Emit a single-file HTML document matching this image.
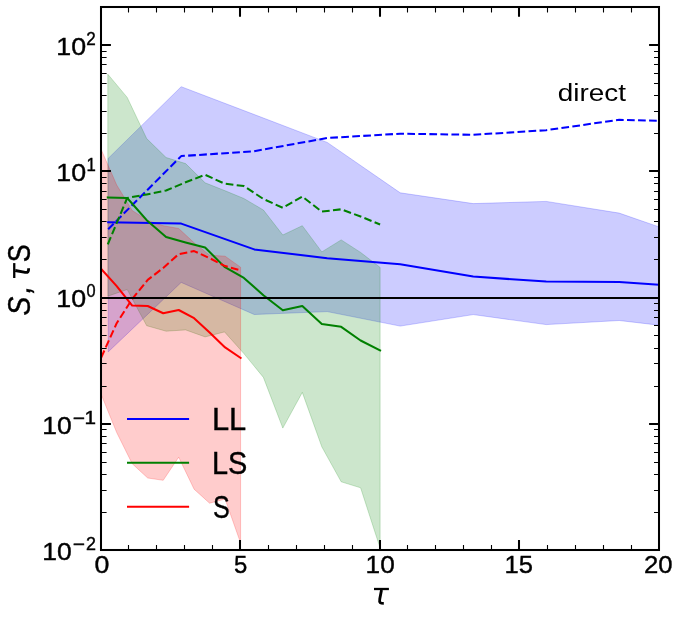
<!DOCTYPE html>
<html><head><meta charset="utf-8"><title>chart</title>
<style>html,body{margin:0;padding:0;background:#fff;}svg{display:block;will-change:transform;}text{font-family:"Liberation Sans",sans-serif;fill:#000;stroke:#000;stroke-width:0.40px;}</style>
</head><body>
<svg width="681" height="618" viewBox="0 0 681 618">
<rect x="0" y="0" width="681" height="618" fill="#fff"/>
<defs><clipPath id="c"><rect x="101.0" y="7.0" width="558.0" height="543.0"/></clipPath></defs>
<g clip-path="url(#c)">
<polygon points="108.2,158.4 181.2,86.7 254.2,114.5 327.2,142.4 400.2,192.8 473.2,203.6 546.2,201.4 619.2,213.1 692.2,238.4 692.2,329.1 619.2,320.5 546.2,324.6 473.2,314.6 400.2,326.1 327.2,311.6 254.2,314.5 181.2,282.4 108.2,351.9" fill="#0000ff" fill-opacity="0.2" stroke="#0000ff" stroke-opacity="0.2" stroke-width="1" stroke-linejoin="miter"/>
<polygon points="107.8,74.2 127.2,97.4 146.7,138.6 166.1,157.5 185.6,163.6 205.1,182.8 224.5,190.5 243.9,198.5 263.4,210.0 282.8,235.0 302.3,225.7 321.8,251.9 341.2,239.9 360.6,252.4 380.1,267.4 380.1,548.0 360.6,487.8 341.2,481.8 321.8,446.8 302.3,392.4 282.8,428.1 263.4,377.4 243.9,353.6 224.5,331.9 205.1,336.9 185.6,329.9 166.1,331.2 146.7,325.7 127.2,289.5 107.8,296.2" fill="#008000" fill-opacity="0.2" stroke="#008000" stroke-opacity="0.2" stroke-width="1" stroke-linejoin="miter"/>
<polygon points="101.2,149.5 116.7,185.0 132.2,210.5 147.7,220.4 163.2,225.7 178.7,228.5 194.1,242.8 209.6,255.2 225.1,256.2 240.6,267.2 240.6,543.0 225.1,499.0 209.6,503.2 194.1,489.2 178.7,457.2 163.2,480.3 147.7,478.0 132.2,463.7 116.7,432.5 101.2,394.5" fill="#ff0000" fill-opacity="0.2" stroke="#ff0000" stroke-opacity="0.2" stroke-width="1" stroke-linejoin="miter"/>
<polyline points="108.2,222.2 181.2,223.6 254.2,249.4 327.2,258.2 400.2,264.2 473.2,276.6 546.2,281.6 619.2,282.0 692.2,287.2" fill="none" stroke="#0000ff" stroke-width="2.04" stroke-linejoin="round" stroke-linecap="square"/>
<polyline points="108.2,229.2 181.2,156.1 254.2,151.2 327.2,138.0 400.2,133.7 473.2,134.8 546.2,130.2 619.2,119.8 692.2,121.5" fill="none" stroke="#0000ff" stroke-width="2.04" stroke-dasharray="7.7 3.33" stroke-linejoin="round"/>
<polyline points="107.8,197.4 127.2,198.0 146.7,220.2 166.1,236.9 185.6,242.4 205.1,247.5 224.5,266.9 243.9,277.9 263.4,295.2 282.8,310.3 302.3,306.1 321.8,324.1 341.2,326.8 360.6,340.5 380.1,350.5" fill="none" stroke="#008000" stroke-width="2.04" stroke-linejoin="round" stroke-linecap="square"/>
<polyline points="107.8,244.3 127.2,198.0 146.7,194.4 166.1,190.5 185.6,182.3 205.1,174.8 224.5,183.6 243.9,186.1 263.4,199.0 282.8,207.8 302.3,196.6 321.8,211.6 341.2,209.3 360.6,216.5 380.1,224.5" fill="none" stroke="#008000" stroke-width="2.04" stroke-dasharray="7.7 3.33" stroke-linejoin="round"/>
<polyline points="101.2,269.0 116.7,286.1 132.2,305.6 147.7,306.0 163.2,313.2 178.7,310.0 194.1,318.2 209.6,332.4 225.1,347.4 240.6,357.9" fill="none" stroke="#ff0000" stroke-width="2.04" stroke-linejoin="round" stroke-linecap="square"/>
<polyline points="101.2,357.5 116.7,323.2 132.2,299.0 147.7,279.9 163.2,267.9 178.7,254.1 194.1,251.1 209.6,258.1 225.1,266.1 240.6,270.4" fill="none" stroke="#ff0000" stroke-width="2.04" stroke-dasharray="7.7 3.33" stroke-linejoin="round"/>
<line x1="101.0" y1="298" x2="659.0" y2="298" stroke="#000" stroke-width="2.04"/>
</g>
<line x1="127" y1="418.9" x2="189.1" y2="418.9" stroke="#0000ff" stroke-width="2.04"/>
<line x1="127" y1="462.8" x2="189.1" y2="462.8" stroke="#008000" stroke-width="2.04"/>
<line x1="127" y1="506.8" x2="189.1" y2="506.8" stroke="#ff0000" stroke-width="2.04"/>
<g stroke="#000" fill="none"><path d="M128.50 550.0v-5.0M128.50 7.0v5.6" stroke-width="1.1"/><path d="M156.50 550.0v-5.0M156.50 7.0v5.6" stroke-width="1.1"/><path d="M184.50 550.0v-5.0M184.50 7.0v5.6" stroke-width="1.1"/><path d="M212.50 550.0v-5.0M212.50 7.0v5.6" stroke-width="1.1"/><path d="M240.00 550.0v-9.9M240.00 7.0v9.8" stroke-width="2.04"/><path d="M268.50 550.0v-5.0M268.50 7.0v5.6" stroke-width="1.1"/><path d="M296.50 550.0v-5.0M296.50 7.0v5.6" stroke-width="1.1"/><path d="M324.50 550.0v-5.0M324.50 7.0v5.6" stroke-width="1.1"/><path d="M352.50 550.0v-5.0M352.50 7.0v5.6" stroke-width="1.1"/><path d="M380.00 550.0v-9.9M380.00 7.0v9.8" stroke-width="2.04"/><path d="M407.50 550.0v-5.0M407.50 7.0v5.6" stroke-width="1.1"/><path d="M435.50 550.0v-5.0M435.50 7.0v5.6" stroke-width="1.1"/><path d="M463.50 550.0v-5.0M463.50 7.0v5.6" stroke-width="1.1"/><path d="M491.50 550.0v-5.0M491.50 7.0v5.6" stroke-width="1.1"/><path d="M519.00 550.0v-9.9M519.00 7.0v9.8" stroke-width="2.04"/><path d="M547.50 550.0v-5.0M547.50 7.0v5.6" stroke-width="1.1"/><path d="M575.50 550.0v-5.0M575.50 7.0v5.6" stroke-width="1.1"/><path d="M603.50 550.0v-5.0M603.50 7.0v5.6" stroke-width="1.1"/><path d="M631.50 550.0v-5.0M631.50 7.0v5.6" stroke-width="1.1"/><path d="M101.0 512.50h5.6M659.0 512.50h-5.0" stroke-width="1.1"/><path d="M101.0 490.50h5.6M659.0 490.50h-5.0" stroke-width="1.1"/><path d="M101.0 474.50h5.6M659.0 474.50h-5.0" stroke-width="1.1"/><path d="M101.0 462.50h5.6M659.0 462.50h-5.0" stroke-width="1.1"/><path d="M101.0 452.50h5.6M659.0 452.50h-5.0" stroke-width="1.1"/><path d="M101.0 443.50h5.6M659.0 443.50h-5.0" stroke-width="1.1"/><path d="M101.0 436.50h5.6M659.0 436.50h-5.0" stroke-width="1.1"/><path d="M101.0 429.50h5.6M659.0 429.50h-5.0" stroke-width="1.1"/><path d="M101.0 424.00h9.9M659.0 424.00h-9.9" stroke-width="2.04"/><path d="M101.0 386.50h5.6M659.0 386.50h-5.0" stroke-width="1.1"/><path d="M101.0 363.50h5.6M659.0 363.50h-5.0" stroke-width="1.1"/><path d="M101.0 348.50h5.6M659.0 348.50h-5.0" stroke-width="1.1"/><path d="M101.0 335.50h5.6M659.0 335.50h-5.0" stroke-width="1.1"/><path d="M101.0 325.50h5.6M659.0 325.50h-5.0" stroke-width="1.1"/><path d="M101.0 317.50h5.6M659.0 317.50h-5.0" stroke-width="1.1"/><path d="M101.0 310.50h5.6M659.0 310.50h-5.0" stroke-width="1.1"/><path d="M101.0 303.50h5.6M659.0 303.50h-5.0" stroke-width="1.1"/><path d="M101.0 298.00h9.9M659.0 298.00h-9.9" stroke-width="2.04"/><path d="M101.0 259.50h5.6M659.0 259.50h-5.0" stroke-width="1.1"/><path d="M101.0 237.50h5.6M659.0 237.50h-5.0" stroke-width="1.1"/><path d="M101.0 221.50h5.6M659.0 221.50h-5.0" stroke-width="1.1"/><path d="M101.0 209.50h5.6M659.0 209.50h-5.0" stroke-width="1.1"/><path d="M101.0 199.50h5.6M659.0 199.50h-5.0" stroke-width="1.1"/><path d="M101.0 191.50h5.6M659.0 191.50h-5.0" stroke-width="1.1"/><path d="M101.0 183.50h5.6M659.0 183.50h-5.0" stroke-width="1.1"/><path d="M101.0 177.50h5.6M659.0 177.50h-5.0" stroke-width="1.1"/><path d="M101.0 171.00h9.9M659.0 171.00h-9.9" stroke-width="2.04"/><path d="M101.0 133.50h5.6M659.0 133.50h-5.0" stroke-width="1.1"/><path d="M101.0 111.50h5.6M659.0 111.50h-5.0" stroke-width="1.1"/><path d="M101.0 95.50h5.6M659.0 95.50h-5.0" stroke-width="1.1"/><path d="M101.0 83.50h5.6M659.0 83.50h-5.0" stroke-width="1.1"/><path d="M101.0 73.50h5.6M659.0 73.50h-5.0" stroke-width="1.1"/><path d="M101.0 64.50h5.6M659.0 64.50h-5.0" stroke-width="1.1"/><path d="M101.0 57.50h5.6M659.0 57.50h-5.0" stroke-width="1.1"/><path d="M101.0 51.50h5.6M659.0 51.50h-5.0" stroke-width="1.1"/><path d="M101.0 45.00h9.9M659.0 45.00h-9.9" stroke-width="2.04"/></g>
<rect x="101.0" y="7.0" width="558.0" height="543.0" fill="none" stroke="#000" stroke-width="2.04"/>
<text transform="translate(56.25 54.75) scale(1.080 1)" font-size="24.80">10</text>
<text transform="translate(86.35 44.85) scale(0.976 1)" font-size="17.50">2</text>
<text transform="translate(56.25 181.00) scale(1.080 1)" font-size="24.80">10</text>
<text transform="translate(86.52 171.10) scale(0.957 1)" font-size="17.50">1</text>
<text transform="translate(56.25 307.25) scale(1.080 1)" font-size="24.80">10</text>
<text transform="translate(86.57 297.35) scale(0.932 1)" font-size="17.50">0</text>
<text transform="translate(42.37 433.50) scale(1.068 1)" font-size="24.80">10</text>
<text transform="translate(72.66 423.60) scale(1.190 1)" font-size="17.50">−</text>
<text transform="translate(84.51 423.60) scale(1.183 1)" font-size="17.50">1</text>
<text transform="translate(42.37 559.75) scale(1.068 1)" font-size="24.80">10</text>
<text transform="translate(72.66 549.85) scale(1.190 1)" font-size="17.50">−</text>
<text transform="translate(86.00 549.85) scale(1.026 1)" font-size="17.50">2</text>
<text transform="translate(94.57 572.55) scale(1.079 1)" font-size="24.80">0</text>
<text transform="translate(234.05 572.55) scale(0.963 1)" font-size="24.80">5</text>
<text transform="translate(365.59 572.55) scale(1.056 1)" font-size="24.80">10</text>
<text transform="translate(504.54 572.55) scale(1.031 1)" font-size="24.80">15</text>
<text transform="translate(644.01 572.55) scale(1.036 1)" font-size="24.80">20</text>
<text transform="translate(557.79 100.50) scale(1.163 1)" font-size="24.00" style="stroke-width:0.00px">direct</text>
<text transform="translate(211.88 429.70) scale(1.012 1)" font-size="30.50">LL</text>
<text transform="translate(212.04 473.80) scale(0.948 1)" font-size="30.50">LS</text>
<text transform="translate(213.07 517.70) scale(0.824 1)" font-size="30.50">S</text>
<g transform="translate(373.7 604.3)" fill="none" stroke="#000"><path d="M0.3 -15.3H15.2" stroke-width="2.3"/><path d="M7.8 -14.3L6.1 -5.6C5.2 -1.2 6.9 -0.9 10.1 -0.9" stroke-width="2.85"/></g>
<text transform="translate(30.00 315.40) rotate(-90) scale(0.906 1)" font-size="31.10" font-style="italic">S</text>
<text transform="translate(30.00 293.61) rotate(-90) scale(0.897 1)" font-size="31.10" font-style="italic">,</text>
<g transform="translate(29.55 278.3) rotate(-90)" fill="none" stroke="#000"><path d="M0.3 -15.3H15.2" stroke-width="2.3"/><path d="M7.8 -14.3L6.1 -5.6C5.2 -1.2 6.9 -0.9 10.1 -0.9" stroke-width="2.85"/></g>
<text transform="translate(30.00 262.31) rotate(-90) scale(0.864 1)" font-size="31.10">S</text>
</svg></body></html>
